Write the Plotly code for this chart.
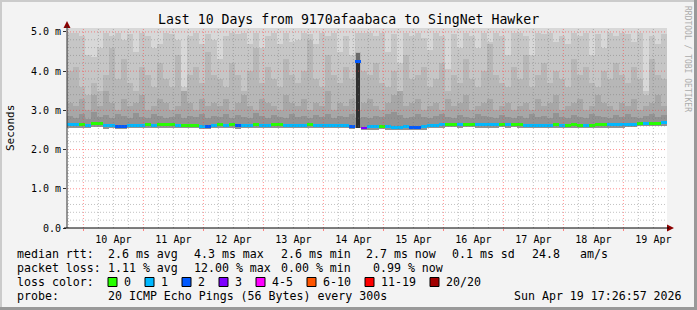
import pandas as pd
import plotly.graph_objects as go

# ---------------- data ----------------
title = "Last 10 Days from 9170afaabaca to SingNet Hawker"
start = pd.Timestamp("2026-04-09 17:26:57")
end = pd.Timestamp("2026-04-19 17:26:57")
n_bins = 100

y_tick_vals = [0, 1, 2, 3, 4, 5]
y_tick_text = ["0.0", "1.0 m", "2.0 m", "3.0 m", "4.0 m", "5.0 m"]

# smoke: bottom of the ping spread (ms)
smoke_low = [2.55, 2.55, 2.56, 2.54, 2.58, 2.57, 2.53, 2.54, 2.52, 2.53, 2.54, 2.55, 2.55, 2.56, 2.55, 2.56, 2.56, 2.55, 2.55, 2.54, 2.54, 2.54, 2.53, 2.52, 2.55,
             2.56, 2.55, 2.56, 2.53, 2.55, 2.55, 2.56, 2.55, 2.55, 2.56, 2.56, 2.55, 2.55, 2.55, 2.55, 2.56, 2.55, 2.55, 2.54, 2.55, 2.54, 2.54, 2.52, 2.55, 2.50,
             2.51, 2.51, 2.52, 2.51, 2.50, 2.50, 2.51, 2.50, 2.49, 2.51, 2.54, 2.55, 2.56, 2.57, 2.57, 2.56, 2.57, 2.57, 2.56, 2.56, 2.56, 2.56, 2.57, 2.56, 2.57,
             2.56, 2.55, 2.54, 2.55, 2.55, 2.55, 2.56, 2.55, 2.55, 2.56, 2.55, 2.55, 2.55, 2.56, 2.56, 2.56, 2.56, 2.56, 2.57, 2.58, 2.59, 2.59, 2.60, 2.60, 2.61]
# smoke layer tops, from the lightest (outermost pings) to the darkest (around the median)
smoke_l1 = [5.6, 5.9, 5.4, 5.7, 5.5, 6.1, 5.8, 5.6, 5.9, 5.5, 5.7, 5.6, 6.0, 5.5, 5.8, 5.6, 5.9, 5.7, 5.5, 5.6, 5.8, 6.0, 5.6, 5.7, 5.5,
            5.9, 5.6, 5.8, 5.5, 5.7, 6.0, 5.6, 5.8, 5.5, 5.9, 5.6, 5.7, 5.8, 5.5, 6.1, 5.6, 5.9, 5.7, 5.5, 5.8, 5.6, 5.9, 5.7, 6.2, 5.6,
            5.8, 5.5, 5.7, 5.9, 5.6, 5.8, 5.5, 6.0, 5.7, 5.6, 5.9, 5.5, 5.8, 5.6, 5.7, 6.0, 5.5, 5.8, 5.6, 5.9, 5.7, 5.5, 5.8, 5.6, 5.9,
            5.7, 5.6, 5.8, 5.5, 6.0, 5.7, 5.6, 5.9, 5.5, 5.8, 5.6, 5.7, 6.0, 5.5, 5.8, 5.6, 5.9, 5.7, 5.5, 5.8, 5.6, 5.9, 5.7, 5.6, 5.8]
smoke_l2 = [4.97, 4.97, 4.9, 4.4, 4.35, 4.6, 4.97, 4.9, 4.97, 4.8, 4.95, 4.5, 4.97, 4.9, 4.6, 4.7, 4.97, 4.95, 4.8, 3.6, 4.9, 4.97, 4.7, 4.95, 4.8,
            4.3, 4.9, 4.97, 4.95, 4.97, 4.7, 4.97, 4.6, 4.9, 4.97, 4.7, 4.97, 4.75, 4.8, 4.97, 4.95, 4.7, 4.97, 4.9, 4.97, 4.5, 4.9, 4.4, 4.97, 4.97,
            4.97, 4.9, 4.97, 4.5, 4.95, 4.2, 4.97, 4.9, 4.97, 4.85, 4.55, 4.97, 4.9, 4.05, 4.95, 4.6, 4.97, 4.9, 4.6, 4.97, 4.75, 4.97, 4.9, 4.4, 4.97,
            4.97, 4.9, 4.4, 4.97, 4.95, 4.97, 4.75, 4.9, 4.7, 4.97, 4.9, 4.97, 4.4, 4.95, 4.6, 4.97, 4.9, 4.97, 4.95, 4.75, 4.97, 3.5, 4.9, 4.7, 4.95]
smoke_l3 = [4.0, 4.1, 3.6, 3.4, 3.7, 3.5, 3.9, 4.6, 3.8, 4.3, 3.7, 3.5, 4.1, 3.9, 3.6, 4.2, 3.8, 3.6, 4.4, 3.4, 3.9, 4.1, 3.7, 4.5, 3.9,
            3.8, 3.6, 4.2, 3.9, 3.5, 4.0, 4.6, 3.7, 4.1, 3.8, 3.6, 4.3, 3.9, 3.7, 4.0, 4.8, 3.8, 3.6, 4.4, 3.9, 3.7, 4.1, 3.8, 4.5, 4.0,
            3.9, 4.2, 3.7, 3.6, 4.0, 3.5, 4.4, 3.8, 3.9, 4.1, 3.6, 3.8, 4.2, 3.5, 3.9, 3.7, 4.3, 3.8, 3.6, 4.0, 4.7, 3.9, 3.7, 3.6, 4.1,
            3.8, 4.4, 3.6, 3.9, 4.2, 3.7, 4.0, 3.8, 3.6, 4.3, 3.9, 4.1, 3.7, 3.6, 4.0, 3.8, 4.2, 3.9, 3.7, 4.1, 3.8, 3.4, 4.3, 3.9, 3.8]
smoke_l4 = [3.2, 3.1, 3.3, 3.0, 3.4, 3.1, 3.5, 3.2, 3.0, 3.3, 3.1, 3.2, 3.4, 3.0, 3.1, 3.3, 3.2, 3.0, 3.1, 3.5, 3.2, 3.0, 3.3, 3.1, 3.2,
            3.1, 3.3, 3.0, 3.2, 3.4, 3.1, 3.0, 3.3, 3.2, 3.1, 3.0, 3.4, 3.2, 3.1, 3.3, 3.0, 3.2, 3.1, 3.5, 3.0, 3.2, 3.1, 3.3, 3.0, 3.2,
            3.3, 3.1, 3.0, 3.2, 3.4, 3.5, 3.1, 3.2, 3.3, 3.0, 3.1, 3.2, 3.0, 3.3, 3.1, 3.2, 3.4, 3.0, 3.1, 3.2, 3.3, 3.0, 3.1, 3.2, 3.0,
            3.1, 3.2, 3.0, 3.3, 3.1, 3.2, 3.4, 3.0, 3.1, 3.2, 3.3, 3.0, 3.1, 3.4, 3.2, 3.1, 3.0, 3.2, 3.1, 3.3, 3.0, 3.1, 3.2, 3.4, 3.1]
smoke_l5 = [2.85, 2.8, 2.9, 2.78, 2.95, 2.82, 2.88, 2.8, 2.9, 2.85, 2.8, 2.92, 2.84, 2.8, 2.9, 2.86, 2.8, 2.83, 2.9, 2.8, 2.86, 2.82, 2.9, 2.8, 2.85,
            2.82, 2.9, 2.8, 2.88, 2.84, 2.8, 2.92, 2.85, 2.8, 2.88, 2.83, 2.8, 2.9, 2.82, 2.86, 2.8, 2.88, 2.84, 2.9, 2.8, 2.85, 2.82, 2.9, 2.8, 2.84,
            2.8, 2.86, 2.82, 2.9, 2.95, 2.88, 2.8, 2.84, 2.9, 2.82, 2.8, 2.86, 2.9, 2.83, 2.8, 2.88, 2.84, 2.8, 2.9, 2.85, 2.82, 2.8, 2.88, 2.84, 2.8,
            2.85, 2.8, 2.9, 2.82, 2.86, 2.8, 2.92, 2.84, 2.8, 2.88, 2.83, 2.8, 2.9, 2.85, 2.82, 2.8, 2.88, 2.84, 2.9, 2.82, 2.8, 2.86, 2.9, 2.84, 2.88]
# bins where all pings sit densely together (the 14 Apr outlier)
dense_bins = [48]
dense_top = [4.26]
dense_cap = [4.46]

# median rtt (ms) and packet loss class per bin
median_rtt = [2.63, 2.63, 2.64, 2.62, 2.67, 2.66, 2.61, 2.61, 2.60, 2.60, 2.61, 2.61, 2.62, 2.63, 2.62, 2.63, 2.63, 2.63, 2.62, 2.61, 2.61, 2.61, 2.60, 2.59, 2.62,
              2.63, 2.62, 2.63, 2.61, 2.62, 2.62, 2.63, 2.62, 2.62, 2.63, 2.63, 2.62, 2.62, 2.62, 2.62, 2.63, 2.62, 2.62, 2.61, 2.62, 2.61, 2.61, 2.59, 4.24, 2.55,
              2.58, 2.58, 2.59, 2.58, 2.57, 2.57, 2.58, 2.57, 2.56, 2.58, 2.61, 2.62, 2.63, 2.64, 2.64, 2.63, 2.64, 2.64, 2.63, 2.63, 2.63, 2.63, 2.64, 2.63, 2.64,
              2.63, 2.62, 2.61, 2.62, 2.62, 2.62, 2.63, 2.62, 2.62, 2.63, 2.62, 2.62, 2.62, 2.63, 2.63, 2.63, 2.63, 2.63, 2.64, 2.65, 2.66, 2.66, 2.67, 2.67, 2.68]
loss_class = [1, 1, 0, 1, 0, 0, 1, 1, 2, 2, 1, 1, 1, 0, 1, 0, 0, 0, 1, 0, 0, 0, 1, 2, 1,
              0, 1, 0, 2, 1, 1, 0, 1, 1, 0, 0, 1, 1, 1, 1, 0, 1, 1, 1, 1, 1, 1, 2, 2, 3,
              1, 1, 0, 1, 1, 1, 1, 2, 2, 1, 1, 1, 1, 0, 0, 1, 0, 0, 1, 1, 1, 1, 0, 1, 0,
              0, 1, 1, 1, 1, 1, 0, 1, 0, 0, 0, 1, 0, 0, 0, 1, 1, 1, 1, 1, 0, 1, 0, 0, 1]

loss_labels = ["0", "1", "2", "3", "4-5", "6-10", "11-19", "20/20"]
loss_colors = ["#26ff00", "#00b8ff", "#0059ff", "#7e00ff", "#ff00ff", "#ff5500", "#ff0000", "#a10000"]

rtt_stats = ["2.6 ms avg", "4.3 ms max", "2.6 ms min", "2.7 ms now", "0.1 ms sd", "24.8", "am/s"]
loss_stats = ["1.11 % avg", "12.00 % max", "0.00 % min", "0.99 % now"]
probe_text = "20 ICMP Echo Pings (56 Bytes) every 300s"
stamp_text = "Sun Apr 19 17:26:57 2026"

for arr in (smoke_low, smoke_l1, smoke_l2, smoke_l3, smoke_l4, smoke_l5, median_rtt, loss_class):
    assert len(arr) == n_bins

# ---------------- layout helpers ----------------
W, H = 697, 310
PL, PR, PT, PB = 67, 667, 28, 228
MONO = "DejaVu Sans Mono"


def px(x):
    return (x - PL) / (PR - PL)


def py(y):
    return (PB - y) / (PB - PT)


step = (end - start) / n_bins
centers = [start + step * (i + 0.5) for i in range(n_bins)]
bin_ms = step.total_seconds() * 1000

fig = go.Figure()

smoke_layers = [(smoke_l1, "#d8d8d8"), (smoke_l2, "#c6c6c6"), (smoke_l3, "#b7b7b7"),
                (smoke_l4, "#a7a7a7"), (smoke_l5, "#939393")]
for tops, col in smoke_layers:
    fig.add_trace(go.Bar(x=centers, y=[t - b for t, b in zip(tops, smoke_low)], base=smoke_low,
                         width=bin_ms, marker=dict(color=col, line=dict(width=0)),
                         hoverinfo="skip", showlegend=False))

dense_x = [centers[i] for i in dense_bins]
dense_base = [smoke_low[i] for i in dense_bins]
fig.add_trace(go.Bar(x=dense_x, y=[c - b for c, b in zip(dense_cap, dense_base)], base=dense_base,
                     width=bin_ms * 0.7, marker=dict(color="#6a6a6a", line=dict(width=0)),
                     hoverinfo="skip", showlegend=False))
fig.add_trace(go.Bar(x=dense_x, y=[c - b for c, b in zip(dense_top, dense_base)], base=dense_base,
                     width=bin_ms * 0.7, marker=dict(color="#2e2e2e", line=dict(width=0)),
                     hoverinfo="skip", showlegend=False))

line_h = 0.075
fig.add_trace(go.Bar(x=centers, y=[line_h] * n_bins, base=[m - line_h / 2 for m in median_rtt],
                     width=bin_ms, marker=dict(color=[loss_colors[c] for c in loss_class], line=dict(width=0)),
                     hoverinfo="skip", showlegend=False))

shapes = []
# grid drawn above the smoke (as rrdtool does)
t = pd.Timestamp("2026-04-09 18:00:00")
while t < end:
    major = t.hour == 0
    shapes.append(dict(type="line", layer="above", xref="x", yref="paper", x0=t, x1=t, y0=0, y1=1,
                       line=dict(color="rgba(255,60,60,0.55)" if major else "rgba(120,120,120,0.45)",
                                 width=1, dash="1px,2px")))
    t += pd.Timedelta(hours=6)
for k in range(1, 26):
    v = k * 0.2
    major = k % 5 == 0
    shapes.append(dict(type="line", layer="above", xref="paper", yref="y", x0=0, x1=1, y0=v, y1=v,
                       line=dict(color="rgba(255,60,60,0.55)" if major else "rgba(120,120,120,0.45)",
                                 width=1, dash="1px,2px")))

# axis arrows
shapes.append(dict(type="path", xref="paper", yref="paper", layer="above",
                   path=f"M {px(63.5)} {py(28)} L {px(70.5)} {py(28)} L {px(67)} {py(21)} Z",
                   fillcolor="#8b0000", line=dict(width=0)))
shapes.append(dict(type="path", xref="paper", yref="paper", layer="above",
                   path=f"M {px(667)} {py(224.5)} L {px(667)} {py(231.5)} L {px(674)} {py(228)} Z",
                   fillcolor="#8b0000", line=dict(width=0)))
shapes.append(dict(type="line", xref="paper", yref="paper", layer="above",
                   x0=px(67), x1=px(67), y0=py(228), y1=py(26), line=dict(color="#303030", width=1)))
shapes.append(dict(type="line", xref="paper", yref="paper", layer="above",
                   x0=px(64), x1=px(669), y0=py(228), y1=py(228), line=dict(color="#000000", width=1)))

# image frame (rrdtool shading)
shapes.append(dict(type="rect", xref="paper", yref="paper", x0=px(0), x1=px(697), y0=py(0), y1=py(2),
                   fillcolor="#cbcbcb", line=dict(width=0)))
shapes.append(dict(type="rect", xref="paper", yref="paper", x0=px(0), x1=px(2), y0=py(0), y1=py(310),
                   fillcolor="#cbcbcb", line=dict(width=0)))
shapes.append(dict(type="rect", xref="paper", yref="paper", x0=px(0), x1=px(697), y0=py(307), y1=py(310),
                   fillcolor="#999999", line=dict(width=0)))
shapes.append(dict(type="rect", xref="paper", yref="paper", x0=px(694), x1=px(697), y0=py(0), y1=py(310),
                   fillcolor="#999999", line=dict(width=0)))

annotations = []


def text(x, y, s, size=11.6, color="#000000", xanchor="left", angle=0):
    annotations.append(dict(x=px(x), y=py(y), xref="paper", yref="paper", text=s, showarrow=False,
                            xanchor=xanchor, yanchor="middle", textangle=angle, borderpad=0,
                            font=dict(family=MONO, size=size, color=color)))


text(348.5, 19, title, size=13.2, xanchor="center")
text(10, 128, "Seconds", size=11, xanchor="center", angle=-90)
text(688, 59, "RRDTOOL / TOBI OETIKER", size=8, color="#ababab", xanchor="center", angle=90)

row_y = [254, 268, 282, 296]
text(16, row_y[0], "median rtt:")
for xx, s in zip([107, 193, 280, 365, 451, 531, 579], rtt_stats):
    text(xx, row_y[0], s)
text(16, row_y[1], "packet loss:")
for xx, s in zip([107, 193, 280, 372], loss_stats):
    text(xx, row_y[1], s)
text(16, row_y[2], "loss color:")
box_x = [108, 145, 182, 219, 256, 307, 365, 430]
for bx, lab, col in zip(box_x, loss_labels, loss_colors):
    shapes.append(dict(type="rect", xref="paper", yref="paper", x0=px(bx), x1=px(bx + 9),
                       y0=py(286.5), y1=py(277.5), fillcolor=col, line=dict(color="#000000", width=1)))
    text(bx + 15, row_y[2], lab)
text(16, row_y[3], "probe:")
text(107, row_y[3], probe_text)
text(513, row_y[3], stamp_text)

fig.update_layout(
    width=W, height=H,
    margin=dict(l=PL, r=W - PR, t=PT, b=H - PB, pad=0),
    paper_bgcolor="#f3f3f3", plot_bgcolor="#ffffff",
    barmode="overlay", bargap=0,
    showlegend=False,
    shapes=shapes, annotations=annotations,
    xaxis=dict(type="date", range=[start, end], showgrid=False, zeroline=False,
               tickformat="%d %b", dtick=86400000, tick0="2026-04-10 00:00:00",
               ticklabelmode="period", ticks="outside", ticklen=2, tickcolor="#ff8080",
               showline=False, tickfont=dict(family=MONO, size=10, color="#000000")),
    yaxis=dict(range=[0, 5.1], tickvals=y_tick_vals, ticktext=y_tick_text, showgrid=False,
               zeroline=False, ticks="outside", ticklen=3, tickcolor="#303030", showline=False,
               tickfont=dict(family=MONO, size=10, color="#000000")),
)

fig.write_html("out.html")
